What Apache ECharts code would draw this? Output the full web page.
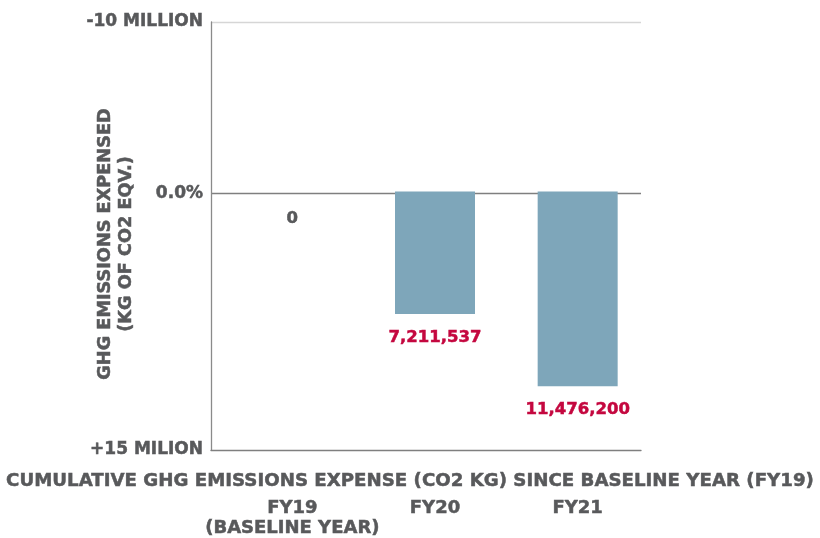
<!DOCTYPE html>
<html>
<head>
<meta charset="utf-8">
<script src="https://cdn.jsdelivr.net/npm/echarts@6/dist/echarts.min.js"></script>
<style>html,body{margin:0;padding:0;background:#fff}#c{width:820px;height:538px}</style>
</head>
<body>
<div id="c"></div>
<script>
const categories = ['FY19\n(BASELINE YEAR)', 'FY20', 'FY21'];
const emissions = [0, 7211537, 11476200];
const tickValues = [-10000000, 0, 15000000];
const tickTexts = ['-10 MILLION', '0.0%', '+15 MILION'];
const yAxisTitle = 'GHG EMISSIONS EXPENSED\n(KG OF CO2 EQV.)';
const xAxisTitle = 'CUMULATIVE GHG EMISSIONS EXPENSE (CO2 KG) SINCE BASELINE YEAR (FY19)';

const GRAY = '#58595b';
const RED = '#c4073f';
const BAR = '#7ea6ba';
const FONT = 'DejaVu Sans';
const STROKE = 0.5;

const chart = echarts.init(document.getElementById('c'), null, {renderer: 'canvas'});
const yMin = -10000000, yMax = 15000000, yStep = 5000000;

chart.setOption({
  animation: false,
  backgroundColor: '#fff',
  title: {
    text: xAxisTitle,
    left: 'center',
    top: 467,
    textStyle: {fontFamily: FONT, fontWeight: 'bold', fontSize: 18.2, color: GRAY,
      textBorderColor: GRAY, textBorderWidth: STROKE}
  },
  graphic: [{
    type: 'text',
    x: 116, y: 244,
    rotation: Math.PI / 2,
    style: {
      text: yAxisTitle,
      fontFamily: FONT, fontWeight: 'bold', fontSize: 17.7, lineHeight: 21,
      fill: GRAY, align: 'center', verticalAlign: 'middle',
      stroke: GRAY, lineWidth: STROKE
    }
  }],
  grid: [
    {left: 211, right: 179, top: 22, bottom: 88},
    {left: 221, right: 171, top: 22, bottom: 88}
  ],
  xAxis: [
    {
      gridIndex: 0, type: 'category', data: categories,
      axisLine: {show: true, onZero: false, lineStyle: {color: '#7f7f7f', width: 1.3}},
      axisTick: {show: false}, axisLabel: {show: false}, splitLine: {show: false}
    },
    {
      gridIndex: 1, type: 'category', data: categories,
      axisLine: {show: false}, axisTick: {show: false},
      axisLabel: {
        interval: 0, hideOverlap: false,
        margin: 52, fontFamily: FONT, fontWeight: 'bold', fontSize: 18,
        lineHeight: 20, color: GRAY, verticalAlign: 'top',
        textBorderColor: GRAY, textBorderWidth: STROKE
      }
    }
  ],
  yAxis: [
    {
      gridIndex: 0, type: 'value', inverse: true, min: yMin, max: yMax, interval: yStep,
      axisLine: {show: true, lineStyle: {color: '#8a8a8a', width: 1.3}},
      axisTick: {show: false},
      axisLabel: {
        margin: 8, fontFamily: FONT, fontWeight: 'bold', fontSize: 17, color: GRAY,
        textBorderColor: GRAY, textBorderWidth: STROKE,
        formatter: function (v) {
          const i = tickValues.indexOf(v);
          return i >= 0 ? tickTexts[i] : '';
        }
      },
      splitLine: {
        show: true,
        lineStyle: {
          width: 1.3,
          color: ['#d6d6d6', 'rgba(0,0,0,0)', '#7f7f7f', 'rgba(0,0,0,0)', 'rgba(0,0,0,0)', 'rgba(0,0,0,0)']
        }
      }
    },
    {
      gridIndex: 1, type: 'value', inverse: true, min: yMin, max: yMax, interval: yStep,
      show: false, splitLine: {show: false}
    }
  ],
  series: [{
    type: 'bar',
    xAxisIndex: 1, yAxisIndex: 1,
    barWidth: 80,
    itemStyle: {color: BAR},
    label: {
      show: true, position: 'bottom', distance: 15,
      fontFamily: FONT, fontWeight: 'bold', fontSize: 16.5, color: RED,
      textBorderColor: RED, textBorderWidth: STROKE,
      formatter: function (p) { return p.value.toLocaleString('en-US'); }
    },
    data: emissions.map(function (v) {
      return v === 0
        ? {value: v, label: {color: GRAY, textBorderColor: GRAY, distance: 19}}
        : v;
    })
  }]
});
</script>
</body>
</html>
